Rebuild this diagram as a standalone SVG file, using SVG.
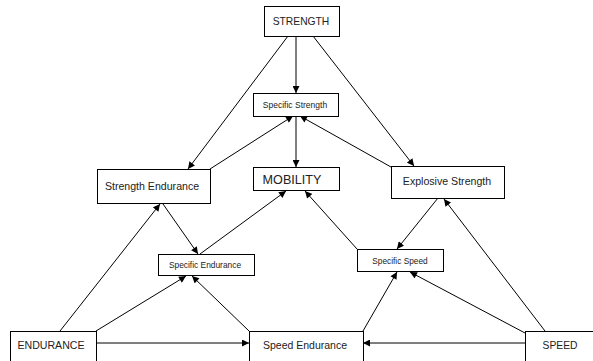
<svg xmlns="http://www.w3.org/2000/svg" width="593" height="361" viewBox="0 0 593 361">
<defs>
<marker id="ah" viewBox="0 0 10 10" refX="10" refY="5" markerWidth="8" markerHeight="7" markerUnits="userSpaceOnUse" orient="auto">
<path d="M0,0 L10,5 L0,10 z" fill="#000"/>
</marker>
<style>
.box{fill:#fff;stroke:#000;stroke-width:1}
.t{font-family:"Liberation Sans",Arial,sans-serif;fill:#222;text-anchor:middle}
.c{stroke:#000;stroke-width:1;fill:none;marker-end:url(#ah)}
.n{stroke:#000;stroke-width:1;fill:none}
</style>
</defs>
<rect width="593" height="361" fill="#fff"/>
<g id="connectors">
<line class="c" x1="296" y1="36" x2="296" y2="93"/>
<line class="c" x1="288" y1="36" x2="188" y2="169"/>
<line class="c" x1="313" y1="36" x2="414" y2="166"/>
<line class="c" x1="210" y1="169" x2="293" y2="116"/>
<line class="c" x1="391" y1="167" x2="300" y2="116"/>
<line class="c" x1="296" y1="116" x2="296" y2="167"/>
<line class="c" x1="60" y1="331" x2="160" y2="204"/>
<line class="c" x1="163" y1="204" x2="198" y2="254"/>
<line class="c" x1="200" y1="254" x2="286" y2="191"/>
<line class="c" x1="357" y1="249" x2="305" y2="191"/>
<line class="c" x1="438" y1="198" x2="397" y2="249"/>
<line class="c" x1="545" y1="331" x2="444" y2="199"/>
<line class="c" x1="525" y1="333" x2="410" y2="272"/>
<line class="c" x1="363" y1="331" x2="397" y2="272"/>
<line class="c" x1="96" y1="331" x2="186" y2="276"/>
<line class="c" x1="249" y1="331" x2="192" y2="276"/>
<line class="c" x1="96" y1="343" x2="249" y2="343"/>
<line class="c" x1="525" y1="343" x2="363" y2="343"/>
</g>
<g id="strength"><rect class="box" x="264.5" y="6.5" width="75" height="30"/><text class="t" x="301" y="25" font-size="10.3">STRENGTH</text></g>
<g id="specific-strength"><rect class="box" x="253.5" y="93.5" width="85" height="23"/><text class="t" x="295" y="108" font-size="8.5">Specific Strength</text></g>
<g id="strength-endurance"><rect class="box" x="97.5" y="169.5" width="113" height="34"/><text class="t" x="152" y="190" font-size="10.6">Strength Endurance</text></g>
<g id="mobility"><rect class="box" x="253.5" y="167.5" width="86" height="23"/><text class="t" x="292" y="184" font-size="12.6">MOBILITY</text></g>
<g id="explosive-strength"><rect class="box" x="391.5" y="166.5" width="113" height="32"/><text class="t" x="447" y="185" font-size="10.6">Explosive Strength</text></g>
<g id="specific-endurance"><rect class="box" x="158.5" y="254.5" width="96" height="21"/><text class="t" x="205" y="268" font-size="8.4">Specific Endurance</text></g>
<g id="specific-speed"><rect class="box" x="357.5" y="249.5" width="86" height="22"/><text class="t" x="400" y="263.5" font-size="8.3">Specific Speed</text></g>
<g id="endurance"><rect class="box" x="10.5" y="331.5" width="86" height="40"/><text class="t" x="51" y="349" font-size="10.6">ENDURANCE</text></g>
<g id="speed-endurance"><rect class="box" x="249.5" y="331.5" width="114" height="40"/><text class="t" x="305" y="349" font-size="10.5">Speed Endurance</text></g>
<g id="speed"><rect class="box" x="525.5" y="331.5" width="80" height="40"/><text class="t" x="560" y="349" font-size="10.3">SPEED</text></g>
</svg>
